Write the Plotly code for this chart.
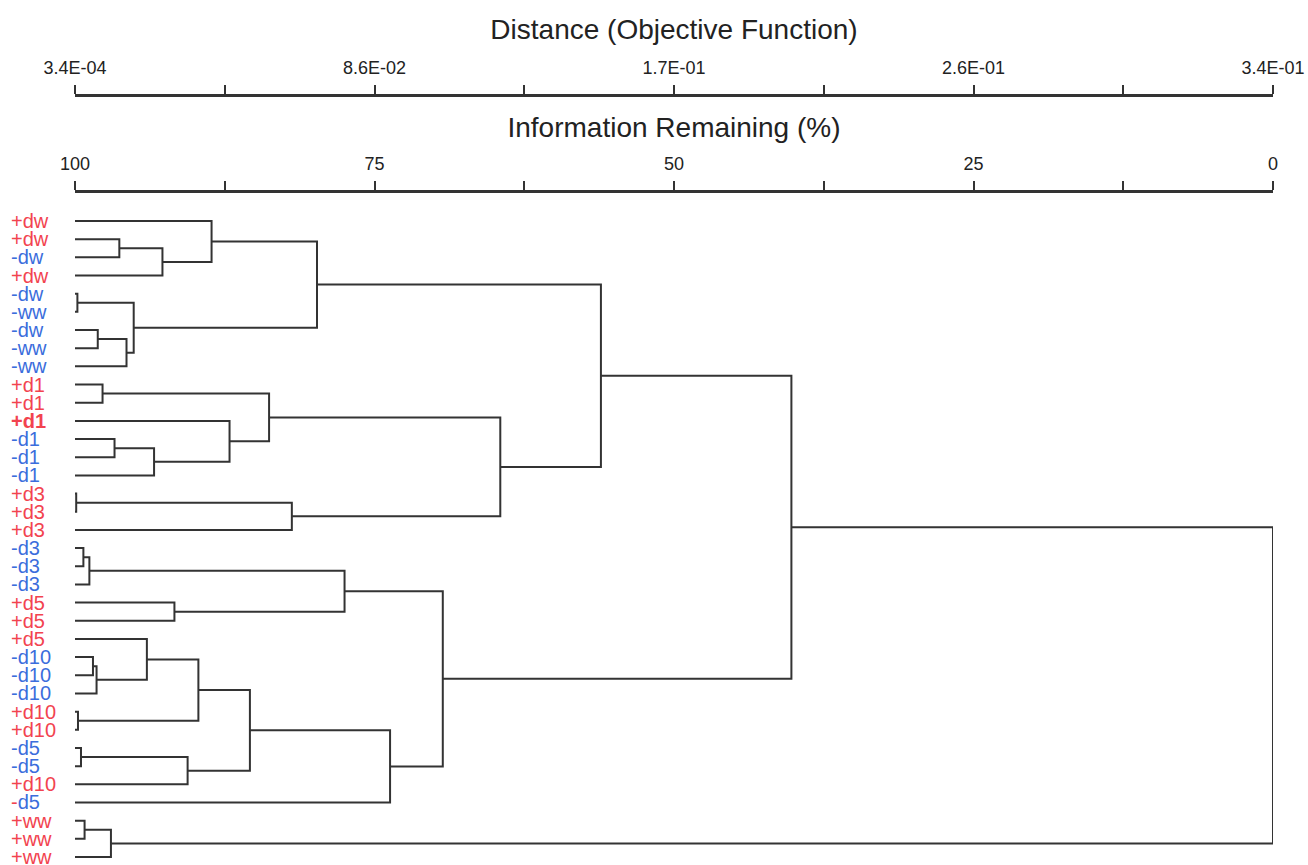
import plotly.graph_objects as go

# ---------------- data ----------------
leaf_labels = ["+dw", "+dw", "-dw", "+dw", "-dw", "-ww", "-dw", "-ww", "-ww",
               "+d1", "+d1", "+d1", "-d1", "-d1", "-d1",
               "+d3", "+d3", "+d3", "-d3", "-d3", "-d3",
               "+d5", "+d5", "+d5", "-d10", "-d10", "-d10", "+d10", "+d10",
               "-d5", "-d5", "+d10", "-d5", "+ww", "+ww", "+ww"]
bold_leaves = [11]
mixed_leaves = [32]  # red sign, blue name

# merges: (child_a, child_b, information remaining % at merge); new node ids start at 36
merge_a = [1, 36, 0, 4, 6, 40, 39, 38, 9, 12, 45, 11, 44, 15, 49, 48, 43,
           18, 53, 21, 54, 24, 57, 23, 27, 59, 29, 62, 61, 64, 56, 33, 67, 52, 69]
merge_b = [2, 3, 37, 5, 7, 8, 41, 42, 10, 13, 14, 46, 47, 16, 17, 50, 51,
           19, 20, 22, 55, 25, 26, 58, 28, 60, 30, 31, 63, 32, 65, 34, 35, 66, 68]
merge_h = [96.3, 92.7, 88.6, 99.8, 98.1, 95.7, 95.1, 79.8, 97.7, 96.7, 93.4, 87.1,
           83.8, 99.9, 81.9, 64.5, 56.1, 99.3, 98.8, 91.7, 77.5, 98.5, 98.2, 94.0,
           99.75, 89.7, 99.5, 90.6, 85.4, 73.7, 69.3, 99.2, 97.0, 40.2, 0.0]

info_ticks = [100, 87.5, 75, 62.5, 50, 37.5, 25, 12.5, 0]
info_labels = ["100", "", "75", "", "50", "", "25", "", "0"]
dist_labels = ["3.4E-04", "", "8.6E-02", "", "1.7E-01", "", "2.6E-01", "", "3.4E-01"]

RED = "#f2434f"
BLUE = "#3b6ddc"
LINE = "#333333"
FONT = "Liberation Sans, Arial, sans-serif"

# ---------------- build dendrogram segments ----------------
n = len(leaf_labels)
node_y = {i: float(i) for i in range(n)}
node_h = {i: 100.0 for i in range(n)}
xs, ys = [], []
for k, (a, b, h) in enumerate(zip(merge_a, merge_b, merge_h)):
    nid = n + k
    xs += [node_h[a], h, h, node_h[b], None]
    ys += [node_y[a], node_y[a], node_y[b], node_y[b], None]
    node_y[nid] = (node_y[a] + node_y[b]) / 2
    node_h[nid] = h

fig = go.Figure()
fig.add_trace(go.Scatter(x=xs, y=ys, mode="lines",
                         line=dict(color=LINE, width=2),
                         hoverinfo="skip", showlegend=False))
fig.add_trace(go.Scatter(x=[], y=[], xaxis="x2", yaxis="y", showlegend=False))
fig.add_trace(go.Scatter(x=[], y=[], xaxis="x3", yaxis="y", showlegend=False))

W, H = 1308, 865
dom = [75 / W, 1273 / W]

axis_common = dict(
    range=[100, 0], domain=dom, overlaying="x", anchor="free", side="top",
    showline=True, linewidth=3, linecolor=LINE, automargin=False,
    ticks="outside", ticklen=9, tickwidth=2, tickcolor=LINE,
    tickmode="array", tickvals=info_ticks, showgrid=False, zeroline=False,
    tickfont=dict(family=FONT, size=18, color="#222"),
    ticklabelstandoff=4,
)

fig.update_layout(
    template="none",
    width=W, height=H,
    margin=dict(l=0, r=0, t=0, b=0, pad=0, autoexpand=False),
    paper_bgcolor="white", plot_bgcolor="white",
    showlegend=False,
    xaxis=dict(range=[100, 0], domain=dom, visible=False, showgrid=False,
               automargin=False),
    yaxis=dict(range=[35.44, -0.88], domain=[0, (H - 205) / H], visible=False,
               showgrid=False, automargin=False),
    xaxis2=dict(axis_common, position=(H - 191) / H, ticktext=info_labels,
                title=dict(text="Information Remaining (%)",
                           font=dict(family=FONT, size=28, color="#222"),
                           standoff=6)),
    xaxis3=dict(axis_common, position=(H - 95) / H, ticktext=dist_labels,
                title=dict(text="Distance (Objective Function)",
                           font=dict(family=FONT, size=28, color="#222"),
                           standoff=8)),
)

annotations = []
for i, lab in enumerate(leaf_labels):
    sign, name = lab[0], lab[1:]
    col = RED if sign == "+" else BLUE
    if i in mixed_leaves:
        txt = f"<span style='color:{RED}'>{sign}</span><span style='color:{BLUE}'>{name}</span>"
    else:
        txt = lab
    if i in bold_leaves:
        txt = f"<b>{txt}</b>"
    annotations.append(dict(
        x=9 / W, xref="paper", xanchor="left",
        y=i, yref="y", yanchor="middle",
        text=txt, showarrow=False,
        font=dict(family=FONT, size=20, color=col),
    ))
fig.update_layout(annotations=annotations)

fig.write_html("out.html")
